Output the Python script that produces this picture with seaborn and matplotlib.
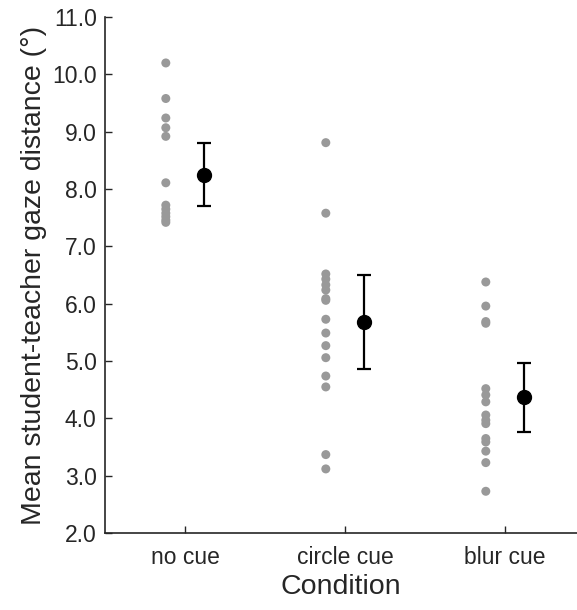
import numpy as np
import pandas as pd
import matplotlib
matplotlib.use("Agg")
import matplotlib.pyplot as plt
import seaborn as sns

conditions = ["no cue", "circle cue", "blur cue"]

no_cue = [10.2, 9.58, 9.24, 9.07, 8.92, 8.11, 7.72, 7.65, 7.58, 7.52, 7.46, 7.42]
circle_cue = [8.81, 7.58, 6.52, 6.43, 6.33, 6.24, 6.09, 6.06, 5.73, 5.49,
              5.27, 5.06, 4.74, 4.55, 3.37, 3.12]
blur_cue = [6.38, 5.96, 5.69, 5.66, 4.52, 4.41, 4.29, 4.06, 3.97, 3.91,
            3.65, 3.59, 3.43, 3.23, 2.73]

means = [8.25, 5.68, 4.37]
err_low = [7.71, 4.86, 3.77]
err_high = [8.80, 6.50, 4.97]

sns.set_style("ticks")
plt.rcParams['font.family'] = ['Liberation Sans', 'DejaVu Sans']

rows = []
for i, vals in enumerate([no_cue, circle_cue, blur_cue]):
    for v in vals:
        rows.append({"condition": conditions[i], "pos": i - 0.12, "value": v})
df = pd.DataFrame(rows)

fig = plt.figure(figsize=(5.77, 6.10), dpi=100)
ax = fig.add_axes([0.182, 0.126, 0.818, 0.846])

sns.scatterplot(data=df, x="pos", y="value", color="#999999", s=42,
                edgecolor="none", ax=ax, legend=False)

pos = np.arange(len(conditions)) + 0.12
means_arr = np.array(means)
yerr = [means_arr - np.array(err_low), np.array(err_high) - means_arr]
ax.errorbar(pos, means_arr, yerr=yerr, fmt="o", color="black", ms=10,
            elinewidth=1.6, capsize=5, capthick=1.6)

ax.set_xlim(-0.5, 2.45)
ax.set_ylim(2.0, 11.0)
ax.set_xticks(range(len(conditions)))
ax.set_xticklabels(conditions)
ax.set_yticks(np.arange(2, 12, 1))
ax.set_yticklabels([f"{v:.1f}" for v in np.arange(2, 12, 1)])
ax.tick_params(direction="in", length=5, width=1, labelsize=16.5,
               colors="#262626", pad=6)
ax.tick_params(axis="x", pad=9)
ax.set_xlabel("Condition", fontsize=20.5, color="#262626", labelpad=4)
ax.set_ylabel("Mean student-teacher gaze distance (°)", fontsize=20.5,
              color="#262626", labelpad=4)
sns.despine(ax=ax)
for s in ["left", "bottom"]:
    ax.spines[s].set_linewidth(1.2)
    ax.spines[s].set_color("#262626")

fig.savefig("out.png", dpi=100)
